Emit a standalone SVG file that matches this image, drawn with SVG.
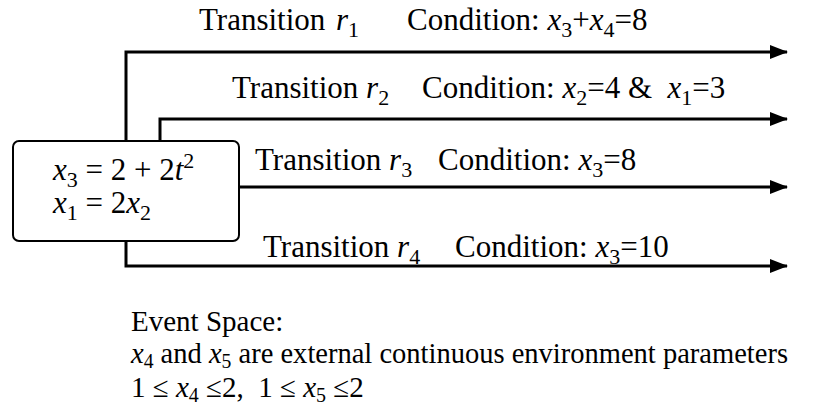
<svg xmlns="http://www.w3.org/2000/svg" width="828" height="408" viewBox="0 0 828 408">
<defs>
<marker id="ah" markerWidth="18" markerHeight="14" refX="17" refY="7" orient="auto" markerUnits="userSpaceOnUse">
<path d="M0,0 L18,7 L0,14 Z" fill="#000"/>
</marker>
<style>
text{font-family:"Liberation Serif","Times New Roman",serif;font-size:31px;fill:#000}
.i{font-style:italic}
.s{font-size:22px}
.b{font-size:29px}
.b .s{font-size:20px}
.c{fill:none;stroke:#000;stroke-width:3}
</style>
</defs>
<rect width="828" height="408" fill="#fff"/>
<g id="connectors">
<path class="c" d="M126,141 V52 H787" marker-end="url(#ah)"/>
<path class="c" d="M160,141 V119 H787" marker-end="url(#ah)"/>
<path class="c" d="M239,187 H787" marker-end="url(#ah)"/>
<path class="c" d="M126,241 V266 H787" marker-end="url(#ah)"/>
</g>
<g id="state">
<rect x="13" y="141" width="226" height="100" rx="6" fill="#fff" stroke="#000" stroke-width="2"/>
<text x="53" y="180" font-size="30"><tspan class="i">x</tspan><tspan class="s" dy="7">3</tspan><tspan dy="-7"> = 2 + 2</tspan><tspan class="i">t</tspan><tspan class="s" dy="-12">2</tspan></text>
<text x="53" y="213" font-size="30"><tspan class="i">x</tspan><tspan class="s" dy="7">1</tspan><tspan dy="-7"> = 2</tspan><tspan class="i">x</tspan><tspan class="s" dy="7">2</tspan></text>
</g>
<g id="labels">
<text x="199" y="30">Transition <tspan class="i" x="336">r</tspan><tspan class="s" dy="7">1</tspan></text>
<text x="407" y="30">Condition: <tspan class="i">x</tspan><tspan class="s" dy="7">3</tspan><tspan dy="-7">+</tspan><tspan class="i">x</tspan><tspan class="s" dy="7">4</tspan><tspan dy="-7">=8</tspan></text>
<text x="232" y="98">Transition <tspan class="i">r</tspan><tspan class="s" dy="7">2</tspan></text>
<text x="422" y="98">Condition: <tspan class="i">x</tspan><tspan class="s" dy="7">2</tspan><tspan dy="-7">=4 &amp;&#160; </tspan><tspan class="i">x</tspan><tspan class="s" dy="7">1</tspan><tspan dy="-7">=3</tspan></text>
<text x="255" y="170">Transition <tspan class="i">r</tspan><tspan class="s" dy="7">3</tspan></text>
<text x="438" y="170">Condition: <tspan class="i">x</tspan><tspan class="s" dy="7">3</tspan><tspan dy="-7">=8</tspan></text>
<text x="263" y="257">Transition <tspan class="i">r</tspan><tspan class="s" dy="7">4</tspan></text>
<text x="455" y="257">Condition: <tspan class="i">x</tspan><tspan class="s" dy="7">3</tspan><tspan dy="-7">=10</tspan></text>
</g>
<g id="event-space">
<text class="b" x="131" y="331">Event Space:</text>
<text class="b" x="131" y="363" textLength="657" lengthAdjust="spacingAndGlyphs"><tspan class="i">x</tspan><tspan class="s" dy="5">4</tspan><tspan dy="-5"> and </tspan><tspan class="i">x</tspan><tspan class="s" dy="5">5</tspan><tspan dy="-5"> are external continuous environment parameters</tspan></text>
<text class="b" x="131" y="397">1 ≤ <tspan class="i">x</tspan><tspan class="s" dy="5">4</tspan><tspan dy="-5"> ≤2,&#160; 1 ≤ </tspan><tspan class="i">x</tspan><tspan class="s" dy="5">5</tspan><tspan dy="-5"> ≤2</tspan></text>
</g>
</svg>
